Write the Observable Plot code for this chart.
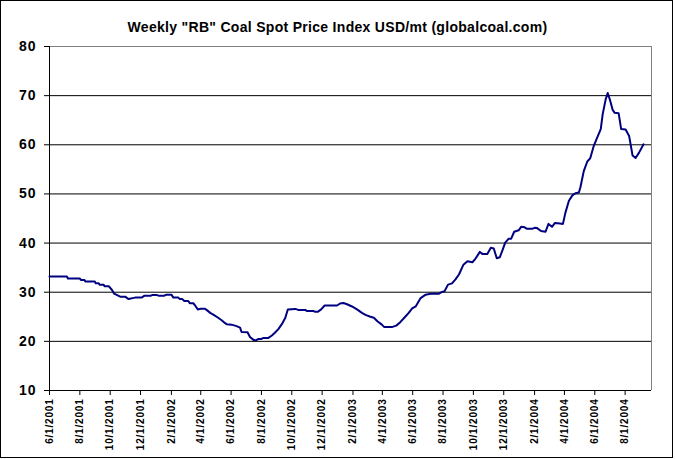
<!DOCTYPE html>
<html>
<head>
<meta charset="utf-8">
<script src="https://cdn.jsdelivr.net/npm/d3@7"></script>
<script src="https://cdn.jsdelivr.net/npm/@observablehq/plot@0.6"></script>
<style>
  html, body { margin: 0; padding: 0; background: #fff; }
  #wrap { position: relative; width: 676px; height: 459px; }
  #border { position: absolute; left: 0; top: 0; width: 673px; height: 458px; box-sizing: border-box; border: 1px solid #000; pointer-events: none; }
  g[aria-label="x-axis tick label"] text { letter-spacing: 0.8px; }
  g[aria-label="y-axis tick label"] text { letter-spacing: 1px; }
  g[aria-label="text"] text { letter-spacing: 0.3px; }
</style>
</head>
<body>
<div id="wrap"><div id="border"></div></div>
<script>
const title = 'Weekly "RB" Coal Spot Price Index USD/mt (globalcoal.com)';

const xTickLabels = ["6/1/2001","8/1/2001","10/1/2001","12/1/2001","2/1/2002","4/1/2002","6/1/2002","8/1/2002","10/1/2002","12/1/2002","2/1/2003","4/1/2003","6/1/2003","8/1/2003","10/1/2003","12/1/2003","2/1/2004","4/1/2004","6/1/2004","8/1/2004"];
const yTicks = [10, 20, 30, 40, 50, 60, 70, 80];
const xDomain = ["2001-06-01", "2004-09-23"];

const dates = [
"2001-06-01","2001-07-06","2001-07-08","2001-08-01","2001-08-03","2001-08-10","2001-08-12","2001-08-31","2001-09-02","2001-09-08",
"2001-09-10","2001-09-18","2001-09-20","2001-09-28","2001-10-01","2001-10-05","2001-10-09","2001-10-15","2001-10-21","2001-10-31",
"2001-11-07","2001-11-15","2001-11-20","2001-12-03","2001-12-09","2001-12-22","2001-12-25","2002-01-02","2002-01-06","2002-01-18",
"2002-01-22","2002-02-01","2002-02-05","2002-02-15","2002-02-18","2002-02-23","2002-02-27","2002-03-07","2002-03-10","2002-03-17",
"2002-03-20","2002-03-26","2002-04-01","2002-04-09","2002-04-14","2002-04-20","2002-04-27","2002-05-06","2002-05-13","2002-05-20",
"2002-05-23","2002-06-02","2002-06-12","2002-06-19","2002-06-22","2002-07-04","2002-07-09","2002-07-16","2002-07-22","2002-07-26",
"2002-08-01","2002-08-05","2002-08-15","2002-08-22","2002-08-28","2002-09-04","2002-09-11","2002-09-18","2002-09-23","2002-10-08",
"2002-10-14","2002-10-28","2002-10-31","2002-11-13","2002-11-17","2002-11-22","2002-11-29","2002-12-06","2002-12-31","2003-01-06",
"2003-01-13","2003-01-20","2003-01-30","2003-02-09","2003-02-19","2003-02-26","2003-03-08","2003-03-15","2003-03-22","2003-03-31",
"2003-04-05","2003-04-20","2003-04-29","2003-05-07","2003-05-17","2003-05-24","2003-05-31","2003-06-07","2003-06-17","2003-06-27",
"2003-07-07","2003-07-24","2003-07-30","2003-08-04","2003-08-11","2003-08-19","2003-08-26","2003-09-02","2003-09-11","2003-09-19",
"2003-09-29","2003-10-05","2003-10-14","2003-10-19","2003-10-29","2003-11-05","2003-11-11","2003-11-17","2003-11-23","2003-11-28",
"2003-12-04","2003-12-11","2003-12-16","2003-12-22","2003-12-31","2004-01-05","2004-01-12","2004-01-17","2004-01-27","2004-02-01",
"2004-02-06","2004-02-14","2004-02-23","2004-02-29","2004-03-07","2004-03-13","2004-03-23","2004-03-29","2004-04-03","2004-04-10",
"2004-04-17","2004-04-23","2004-04-30","2004-05-03","2004-05-10","2004-05-17","2004-05-23","2004-05-30","2004-06-06","2004-06-13",
"2004-06-17","2004-06-23","2004-06-27","2004-07-01","2004-07-07","2004-07-11","2004-07-19","2004-07-24","2004-08-02","2004-08-09",
"2004-08-16","2004-08-22","2004-08-29","2004-09-07"
];
const prices = [
33.2,33.2,32.8,32.8,32.5,32.5,32.2,32.2,31.8,31.8,
31.5,31.5,31.2,31.2,30.9,30.4,29.7,29.4,29.1,29.1,
28.6,28.8,28.9,28.9,29.3,29.3,29.45,29.45,29.3,29.3,
29.5,29.5,28.9,28.9,28.6,28.6,28.2,28.2,27.75,27.75,
27.4,26.5,26.65,26.65,26.3,25.8,25.4,24.8,24.3,23.7,
23.5,23.4,23.1,22.8,21.9,21.85,20.9,20.3,20.25,20.5,
20.5,20.7,20.7,21.2,21.75,22.5,23.5,24.8,26.5,26.6,
26.4,26.4,26.2,26.2,26.0,26.0,26.5,27.3,27.3,27.7,
27.8,27.55,27.1,26.5,25.8,25.4,25.0,24.8,24.1,23.4,
22.9,22.9,23.2,23.9,25.0,25.8,26.7,27.1,28.8,29.5,
29.7,29.7,30.05,30.2,31.55,31.8,32.6,33.6,35.6,36.3,
36.1,36.8,38.2,37.8,37.8,39.05,38.9,36.9,37.1,38.4,
40.1,40.9,40.9,42.3,42.6,43.3,43.2,42.9,42.9,43.1,
43.05,42.45,42.3,43.9,43.3,44.1,44.0,43.9,46.2,48.6,
49.7,50.15,50.3,51.3,54.7,56.6,57.3,59.8,61.5,63.2,
66.3,69.3,70.55,69.3,67.1,66.5,66.4,63.2,63.1,61.8,
57.8,57.3,58.4,60.1
];

const parseMDY = s => { const [m, d, y] = s.split("/").map(Number); return new Date(Date.UTC(y, m - 1, d)); };
const fmtMDY = d => `${d.getUTCMonth() + 1}/${d.getUTCDate()}/${d.getUTCFullYear()}`;
const xTicks = xTickLabels.map(parseMDY);
const data = dates.map((d, i) => ({date: new Date(d), price: prices[i]}));
const dom = xDomain.map(d => new Date(d));

const chart = Plot.plot({
  width: 676,
  height: 459,
  marginLeft: 49,
  marginRight: 25,
  marginTop: 46,
  marginBottom: 69,
  style: {fontFamily: "Arial, 'Liberation Sans', sans-serif", background: "#fff", color: "#000", overflow: "visible"},
  x: {type: "utc", domain: dom},
  y: {domain: [10, 80]},
  marks: [
    Plot.ruleY(yTicks.filter(v => v > 10 && v < 80), {stroke: "#000", strokeWidth: 1}),
    Plot.ruleY([80], {stroke: "#808080", strokeWidth: 1}),
    Plot.ruleX([dom[1]], {stroke: "#808080", strokeWidth: 1}),
    Plot.axisY({ticks: yTicks, tickSize: 5, tickPadding: 8, label: null, fontSize: 14, fontWeight: "bold", stroke: "#000"}),
    Plot.axisX({ticks: xTicks, tickFormat: fmtMDY, tickSize: 5, tickPadding: 3, tickRotate: -90, label: null, fontSize: 10, fontWeight: "bold"}),
    Plot.ruleX([dom[0]], {stroke: "#000", strokeWidth: 1}),
    Plot.ruleY([10], {stroke: "#000", strokeWidth: 1}),
    Plot.line(data, {x: "date", y: "price", stroke: "#000080", strokeWidth: 2}),
    Plot.text([title], {frameAnchor: "top", lineAnchor: "middle", dy: -19, dx: -13, fontSize: 14, fontWeight: "bold", fill: "#000"})
  ]
});
document.getElementById("wrap").prepend(chart);
</script>
</body>
</html>
